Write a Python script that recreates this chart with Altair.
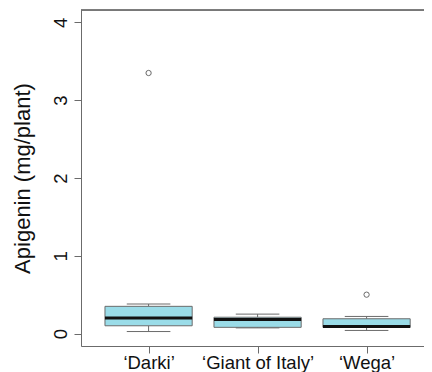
import altair as alt
import pandas as pd

cultivars = ["‘Darki’", "‘Giant of Italy’", "‘Wega’"]
positions = [1, 2, 3]
whisker_low = [0.026, 0.073, 0.04]
q1 = [0.10, 0.08, 0.08]
median = [0.20, 0.18, 0.09]
q3 = [0.35, 0.21, 0.19]
whisker_high = [0.38, 0.25, 0.22]

outlier_cultivar = ["‘Darki’", "‘Wega’"]
outlier_pos = [1, 3]
outlier_value = [3.35, 0.50]

stats = pd.DataFrame({
    "cultivar": cultivars, "pos": positions, "lo": whisker_low, "q1": q1,
    "med": median, "q3": q3, "hi": whisker_high,
})
outs = pd.DataFrame({"cultivar": outlier_cultivar, "pos": outlier_pos, "value": outlier_value})

FONT = "Liberation Sans"
W, H = 343, 336
GREY = "#6b6b6b"

xscale = alt.Scale(domain=[0.38, 0.38 + W / 109.0], nice=False, zero=False)
yscale = alt.Scale(domain=[-0.16, 4.16], nice=False, zero=False)

label_expr = "datum.value == 1 ? '‘Darki’' : datum.value == 2 ? '‘Giant of Italy’' : datum.value == 3 ? '‘Wega’' : ''"

xaxis = alt.Axis(values=[1, 2, 3], labelExpr=label_expr, title=None, grid=False,
                 tickSize=7, tickColor=GREY, domainColor=GREY, labelFont=FONT,
                 labelFontSize=18.5, labelColor="#111", labelPadding=0)
yaxis = alt.Axis(values=[0, 1, 2, 3, 4], format="d", title="Apigenin (mg/plant)", grid=False,
                 tickSize=7, tickColor=GREY, domainColor=GREY, labelFont=FONT,
                 labelFontSize=18.5, labelColor="#111", labelAngle=-90, labelAlign="center",
                 labelBaseline="bottom", labelPadding=4, titleFont=FONT, titleFontSize=22,
                 titleFontWeight="normal", titleColor="#111", titleAngle=-90,
                 titleAlign="center", titleBaseline="alphabetic", titleX=-52, titleY=H / 2)

base = alt.Chart(stats).transform_calculate(
    xl="datum.pos - 0.4", xr="datum.pos + 0.4",
    cl="datum.pos - 0.2", cr="datum.pos + 0.2",
)

whisk_up = base.mark_rule(color=GREY, strokeWidth=1).encode(
    x=alt.X("pos:Q", scale=xscale, axis=xaxis),
    y=alt.Y("q3:Q", scale=yscale, axis=yaxis), y2="hi:Q")
whisk_dn = base.mark_rule(color=GREY, strokeWidth=1).encode(
    x=alt.X("pos:Q", scale=xscale), y=alt.Y("lo:Q", scale=yscale), y2="q1:Q")
cap_up = base.mark_rule(color=GREY, strokeWidth=1).encode(
    x=alt.X("cl:Q", scale=xscale), x2="cr:Q", y=alt.Y("hi:Q", scale=yscale))
cap_dn = base.mark_rule(color=GREY, strokeWidth=1).encode(
    x=alt.X("cl:Q", scale=xscale), x2="cr:Q", y=alt.Y("lo:Q", scale=yscale))
box = base.mark_bar(fill="#9adce8", stroke=GREY, strokeWidth=1).encode(
    x=alt.X("xl:Q", scale=xscale), x2="xr:Q",
    y=alt.Y("q1:Q", scale=yscale), y2="q3:Q")
med = base.mark_rule(color="#111111", strokeWidth=3).encode(
    x=alt.X("xl:Q", scale=xscale), x2="xr:Q", y=alt.Y("med:Q", scale=yscale))
pts = alt.Chart(outs).mark_point(shape="circle", filled=False, size=28, color=GREY,
                                 strokeWidth=1, opacity=1).encode(
    x=alt.X("pos:Q", scale=xscale), y=alt.Y("value:Q", scale=yscale))
top = alt.Chart(stats).mark_rule(color=GREY, strokeWidth=1).encode(
    x=alt.value(0), x2=alt.value(W), y=alt.value(0))

chart = alt.layer(whisk_up, whisk_dn, cap_up, cap_dn, box, med, pts, top).properties(
    width=W, height=H,
    autosize=alt.AutoSizeParams(type="none"),
    padding={"left": 73, "top": 2, "right": 0, "bottom": 26},
).configure_view(stroke=None).configure(background="white")

chart.save("out.html", embed_options={"renderer": "svg", "actions": False})
